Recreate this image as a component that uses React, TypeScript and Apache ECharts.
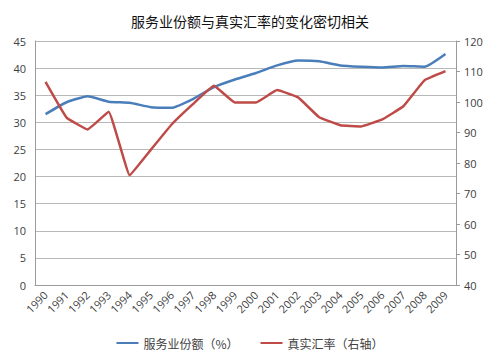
import React, { useEffect, useRef } from "react";
import * as echarts from "echarts";

const years = ["1990","1991","1992","1993","1994","1995","1996","1997","1998","1999","2000","2001","2002","2003","2004","2005","2006","2007","2008","2009"];
const serviceShare = [31.5, 33.7, 34.8, 33.8, 33.6, 32.8, 32.7, 34.3, 36.5, 37.9, 39.1, 40.5, 41.4, 41.25, 40.5, 40.25, 40.1, 40.4, 40.25, 42.6];
const realRate = [106.6, 94.9, 91.0, 96.8, 76.0, 84.3, 92.7, 99.3, 105.3, 99.8, 99.8, 103.9, 101.5, 95.0, 92.4, 92.0, 94.3, 98.6, 107.1, 110.1];
const titleText = "服务业份额与真实汇率的变化密切相关";
const seriesNames = ["服务业份额（%）", "真实汇率（右轴）"];

export default function App() {
  const ref = useRef<HTMLDivElement>(null);
  useEffect(() => {
    if (!ref.current) return;
    const chart = echarts.init(ref.current, null, { renderer: "svg" });
    const font = "'Open Sans', 'Noto Sans CJK SC', sans-serif";
    chart.setOption({
      animation: false,
      backgroundColor: "#ffffff",
      title: {
        text: titleText,
        left: "center",
        top: 9,
        textStyle: { fontFamily: "'Noto Sans CJK SC', sans-serif", fontSize: 14, fontWeight: "normal", color: "#111111" },
      },
      legend: {
        bottom: 9,
        left: "center",
        itemGap: 22,
        itemWidth: 22,
        itemHeight: 2,
        icon: "rect",
        textStyle: { fontFamily: "'Noto Sans CJK SC', sans-serif", fontSize: 12, color: "#404040" },
        data: seriesNames,
      },
      grid: { left: 35, right: 44, top: 41, bottom: 78, containLabel: false },
      xAxis: {
        type: "category",
        data: years,
        boundaryGap: true,
        axisLine: { show: true, lineStyle: { color: "#9a9a9a", width: 1 } },
        axisTick: { show: false },
        axisLabel: { rotate: 45, fontSize: 11, fontFamily: font, color: "#404040", margin: 8, interval: 0 },
      },
      yAxis: [
        {
          type: "value",
          min: 0,
          max: 45,
          interval: 5,
          axisLine: { show: true, lineStyle: { color: "#9a9a9a" } },
          axisTick: { show: false },
          splitLine: { show: true, lineStyle: { color: "#b8b8b8", width: 1 } },
          axisLabel: { fontSize: 11, fontFamily: font, color: "#404040", margin: 9 },
        },
        {
          type: "value",
          min: 40,
          max: 120,
          interval: 10,
          position: "right",
          axisLine: { show: true, lineStyle: { color: "#9a9a9a" } },
          axisTick: { show: true, length: 4, lineStyle: { color: "#9a9a9a" } },
          splitLine: { show: false },
          axisLabel: { fontSize: 11, fontFamily: font, color: "#404040", margin: 8 },
        },
      ],
      series: [
        {
          name: seriesNames[0],
          type: "line",
          data: serviceShare,
          yAxisIndex: 0,
          symbol: "none",
          smooth: 0.15,
          lineStyle: { color: "#4a7ebb", width: 2.5 },
          itemStyle: { color: "#4a7ebb" },
        },
        {
          name: seriesNames[1],
          type: "line",
          data: realRate,
          yAxisIndex: 1,
          symbol: "none",
          smooth: 0.08,
          lineStyle: { color: "#be4b48", width: 2.5 },
          itemStyle: { color: "#be4b48" },
        },
      ],
    });
    return () => chart.dispose();
  }, []);
  return <div ref={ref} style={{ width: 500, height: 363, position: "absolute", left: 0, top: 0 }} />;
}
